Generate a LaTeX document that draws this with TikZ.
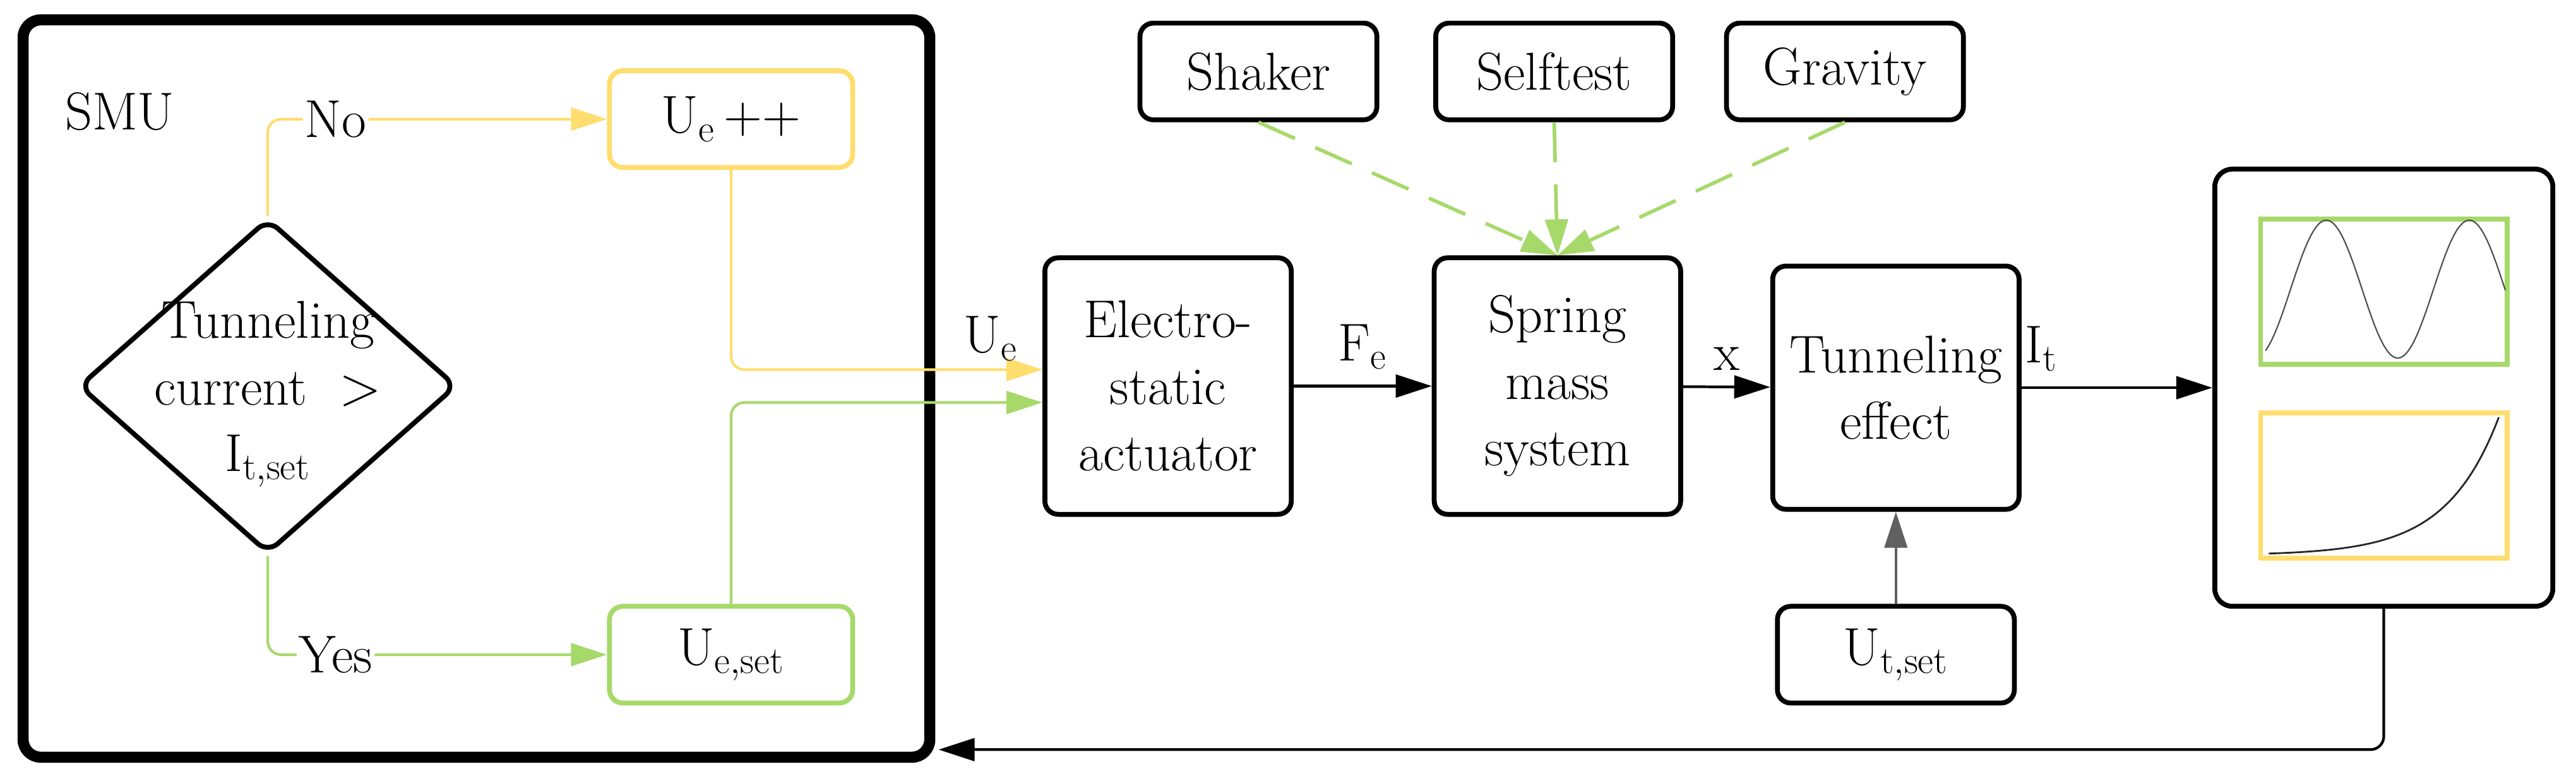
\documentclass[tikz,border=0pt]{standalone}
\usepackage{tikz}
\usetikzlibrary{arrows.meta,positioning,shapes.geometric,calc}
\definecolor{ylw}{HTML}{FFDD6E}
\definecolor{grn}{HTML}{A6D96A}
\definecolor{dgray}{HTML}{606060}

\begin{document}
\begin{tikzpicture}[x=0.026cm,y=-0.026cm,
  font=\fontsize{24}{30}\selectfont,
  block/.style={draw, line width=2.2pt, rounded corners=6pt, align=center,
    minimum width=3.9cm, minimum height=4.06cm, inner sep=2pt},
  small/.style={draw, line width=2.2pt, rounded corners=6pt, align=center,
    minimum width=3.75cm, minimum height=1.53cm},
  lbl/.style={inner sep=1pt},
  arr/.style={-{Triangle[length=0.57cm,width=0.36cm]}, line width=1.2pt},
  flow/.style={line width=1.4pt, rounded corners=6pt}
]
\useasboundingbox (0,0) rectangle (1568,475.4);

% ----- SMU -----
\node[draw, line width=5pt, rounded corners=8pt, minimum width=14.35cm,
  minimum height=11.67cm] (smu) at (290,236.5) {};
\node[lbl, anchor=west] (smulbl) at (38,68) {SMU};
\node[draw, line width=2.2pt, shape=diamond, rounded corners=6pt,
  minimum width=5.98cm, minimum height=5.3cm, inner sep=0pt] (dec) at (163,235) {};
\node[align=center] (dectxt) at (163,240) {Tunneling\\current \ $>$\\I$_{\mathrm{t,set}}$};
\node[small, draw=ylw, minimum width=3.85cm] (inc) at (445,72.5) {U$_{\mathrm{e}}$\,++};
\node[small, draw=grn, minimum width=3.85cm] (set) at (445,398.5) {U$_{\mathrm{e,set}}$};

% ----- chain -----
\node[block] (act) at (711,235) {Electro-\\static\\actuator};
\node[block] (spr) at (948,235) {Spring\\mass\\system};
\node[block, minimum height=3.85cm] (tun) at (1154,236) {Tunneling\\effect};
\node[small] (ut) at (1154,398.5) {U$_{\mathrm{t,set}}$};
\node[small] (shk) at (766,43.5) {Shaker};
\node[small] (slf) at (946,43.5) {Selftest};
\node[small] (grv) at (1123,43.5) {Gravity};

% ----- display -----
\node[draw, line width=2.2pt, rounded corners=8pt, minimum width=5.35cm,
  minimum height=6.92cm] (disp) at (1451,236) {};
\node[draw=grn, line width=2.2pt, minimum width=3.9cm, minimum height=2.3cm] (sine) at (1451,177.5) {};
\node[draw=ylw, line width=2.2pt, minimum width=3.9cm, minimum height=2.3cm] (expo) at (1451,295.5) {};
\draw[black!70, line width=0.6pt, domain=0:146, samples=80]
  plot ({1379+\x}, {176-42*cos(4.138*(\x-37))});
\draw[black!85, line width=0.8pt, domain=0:140, samples=60]
  plot ({1381+\x}, {338-84*exp((\x-140)/32)});

% ----- connectors -----
\draw[flow, ylw, arr] (dec.north) |- node[lbl, pos=0.6, fill=white, text=black] {No} (inc.west);
\draw[flow, grn, arr] (dec.south) |- node[lbl, pos=0.6, fill=white, text=black] {Yes} (set.west);
\draw[flow, ylw, arr] (inc.south) |- ($(act.west)+(0,-10)$);
\draw[flow, grn, arr] (set.north) |- ($(act.west)+(0,10)$);
\node[lbl] (ue) at (603,206) {U$_{\mathrm{e}}$};

\draw[arr] (act) -- node[lbl, above=6pt] {F$_{\mathrm{e}}$} (spr);
\draw[arr] (spr) -- node[lbl, above=6pt] {x} (tun);
\draw[arr] (tun) -- node[lbl, above=6pt, xshift=-1.2cm] {I$_{\mathrm{t}}$} (disp);
\draw[arr, dgray] (ut) -- (tun);

\draw[grn, line width=1.6pt, dash pattern=on 18pt off 10pt, -{Triangle[length=0.57cm,width=0.36cm]}]
  (shk.south) -- (spr.north);
\draw[grn, line width=1.6pt, dash pattern=on 18pt off 10pt, -{Triangle[length=0.57cm,width=0.36cm]}]
  (slf.south) -- (spr.north);
\draw[grn, line width=1.6pt, dash pattern=on 18pt off 10pt, -{Triangle[length=0.57cm,width=0.36cm]}]
  (grv.south) -- (spr.north);

\draw[flow, arr] (disp.south) |- ($(smu.south east)+(2,-8)$);
\end{tikzpicture}
\end{document}
